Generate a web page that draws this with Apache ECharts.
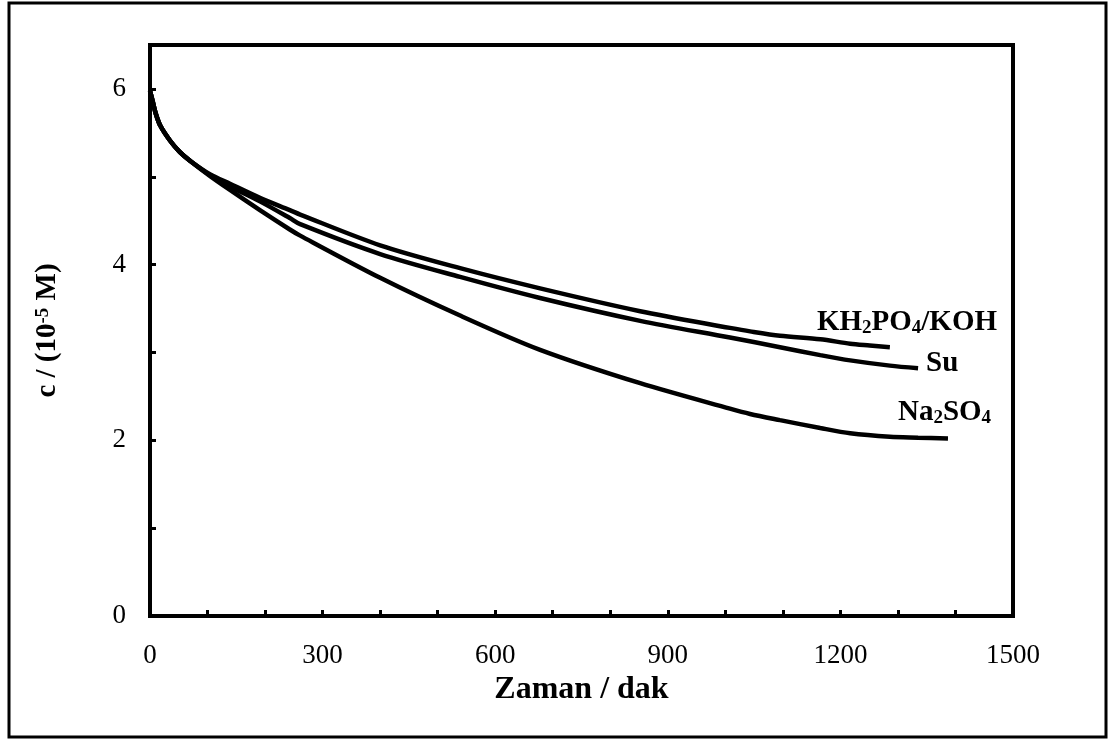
<!DOCTYPE html>
<html>
<head>
<meta charset="utf-8">
<script src="https://cdn.jsdelivr.net/npm/echarts@6/dist/echarts.min.js"></script>
<style>
  html, body { margin: 0; padding: 0; background: #fff; }
  #chart { width: 1115px; height: 744px; }
</style>
</head>
<body>
<div id="chart"></div>
<script>
// Concentration decay over time in three media
const tKH = [0, 5, 10, 18, 35, 52, 70, 104, 139, 191, 243, 261, 400, 539, 678, 852, 1008, 1043, 1095, 1165, 1217, 1251, 1286];
const cKH = [5.98, 5.85, 5.72, 5.58, 5.41, 5.28, 5.18, 5.03, 4.92, 4.76, 4.62, 4.57, 4.22, 3.96, 3.73, 3.47, 3.28, 3.24, 3.19, 3.15, 3.10, 3.08, 3.06];

const tSu = [0, 5, 10, 18, 35, 52, 70, 104, 139, 191, 243, 261, 400, 539, 678, 852, 1008, 1095, 1165, 1217, 1286, 1335];
const cSu = [5.98, 5.85, 5.72, 5.58, 5.41, 5.28, 5.18, 5.02, 4.89, 4.72, 4.53, 4.46, 4.12, 3.86, 3.62, 3.36, 3.17, 3.06, 2.97, 2.91, 2.85, 2.82];

const tNa = [0, 5, 10, 18, 35, 52, 70, 104, 139, 191, 243, 261, 400, 539, 678, 852, 1008, 1043, 1095, 1165, 1217, 1286, 1335, 1387];
const cNa = [5.98, 5.85, 5.72, 5.58, 5.41, 5.28, 5.18, 5.01, 4.85, 4.62, 4.40, 4.33, 3.85, 3.42, 3.03, 2.65, 2.36, 2.30, 2.23, 2.14, 2.08, 2.04, 2.03, 2.02];

const xTickLabels = [0, 300, 600, 900, 1200, 1500];
const yTickLabels = [0, 2, 4, 6];

const FONT = '"Liberation Serif", "Times New Roman", serif';

const pairs = (t, c) => t.map((v, i) => [v, c[i]]);

const labelRich = {
  a: { fontFamily: FONT, fontWeight: 'bold', fontSize: 29, color: '#000', lineHeight: 32, verticalAlign: 'middle' },
  s: { fontFamily: FONT, fontWeight: 'bold', fontSize: 19, color: '#000', lineHeight: 32, verticalAlign: 'bottom', padding: [0, 0, 1, 0] }
};

function lineSeries(name, t, c, fmt, offset) {
  return {
    type: 'line',
    name: name,
    data: pairs(t, c),
    smooth: 0.3,
    showSymbol: false,
    symbol: 'none',
    lineStyle: { color: '#000', width: 4.5 },
    endLabel: {
      show: true,
      formatter: fmt,
      rich: labelRich,
      align: 'left',
      distance: 0,
      offset: offset
    }
  };
}

const chart = echarts.init(document.getElementById('chart'), null, { renderer: 'canvas' });

chart.setOption({
  animation: false,
  backgroundColor: '#fff',
  grid: {
    left: 150, right: 102, top: 45, bottom: 128,
    show: true, borderColor: '#000', borderWidth: 4
  },
  xAxis: {
    type: 'value',
    min: 0, max: 1500, interval: 100,
    name: 'Zaman / dak',
    nameLocation: 'middle',
    nameGap: 55,
    nameTextStyle: { fontFamily: FONT, fontWeight: 'bold', fontSize: 32, color: '#000' },
    axisLine: { lineStyle: { color: '#000', width: 4 } },
    axisTick: { inside: true, length: 6, lineStyle: { color: '#000', width: 3 } },
    axisLabel: {
      margin: 26,
      fontFamily: FONT, fontSize: 27, color: '#000',
      formatter: v => (xTickLabels.indexOf(v) >= 0 ? String(v) : '')
    },
    splitLine: { show: false }
  },
  yAxis: {
    type: 'value',
    min: 0, max: 6.5, interval: 1,
    name: '{a|c / (10}{p|-5}{a| M)}',
    nameLocation: 'middle',
    nameRotate: 90,
    nameGap: 86,
    nameTextStyle: {
      rich: {
        a: { fontFamily: FONT, fontWeight: 'bold', fontSize: 29, color: '#000', lineHeight: 32, verticalAlign: 'middle' },
        p: { fontFamily: FONT, fontWeight: 'bold', fontSize: 19, color: '#000', lineHeight: 32, verticalAlign: 'top', padding: [2, 0, 0, 0] }
      }
    },
    axisLine: { lineStyle: { color: '#000', width: 4 } },
    axisTick: { inside: true, length: 6, lineStyle: { color: '#000', width: 3 } },
    axisLabel: {
      margin: 24,
      fontFamily: FONT, fontSize: 27, color: '#000',
      formatter: v => (yTickLabels.indexOf(v) >= 0 ? String(v) : '')
    },
    splitLine: { show: false }
  },
  graphic: [{
    type: 'rect',
    shape: { x: 9, y: 3, width: 1097, height: 734 },
    style: { fill: null, stroke: '#000', lineWidth: 3 },
    silent: true
  }],
  series: [
    lineSeries('KH2PO4/KOH', tKH, cKH, '{a|KH}{s|2}{a|PO}{s|4}{a|/KOH}', [-73, -25]),
    lineSeries('Su', tSu, cSu, '{a|Su}', [8, -5]),
    lineSeries('Na2SO4', tNa, cNa, '{a|Na}{s|2}{a|SO}{s|4}', [-50, -26])
  ]
});
</script>
</body>
</html>
